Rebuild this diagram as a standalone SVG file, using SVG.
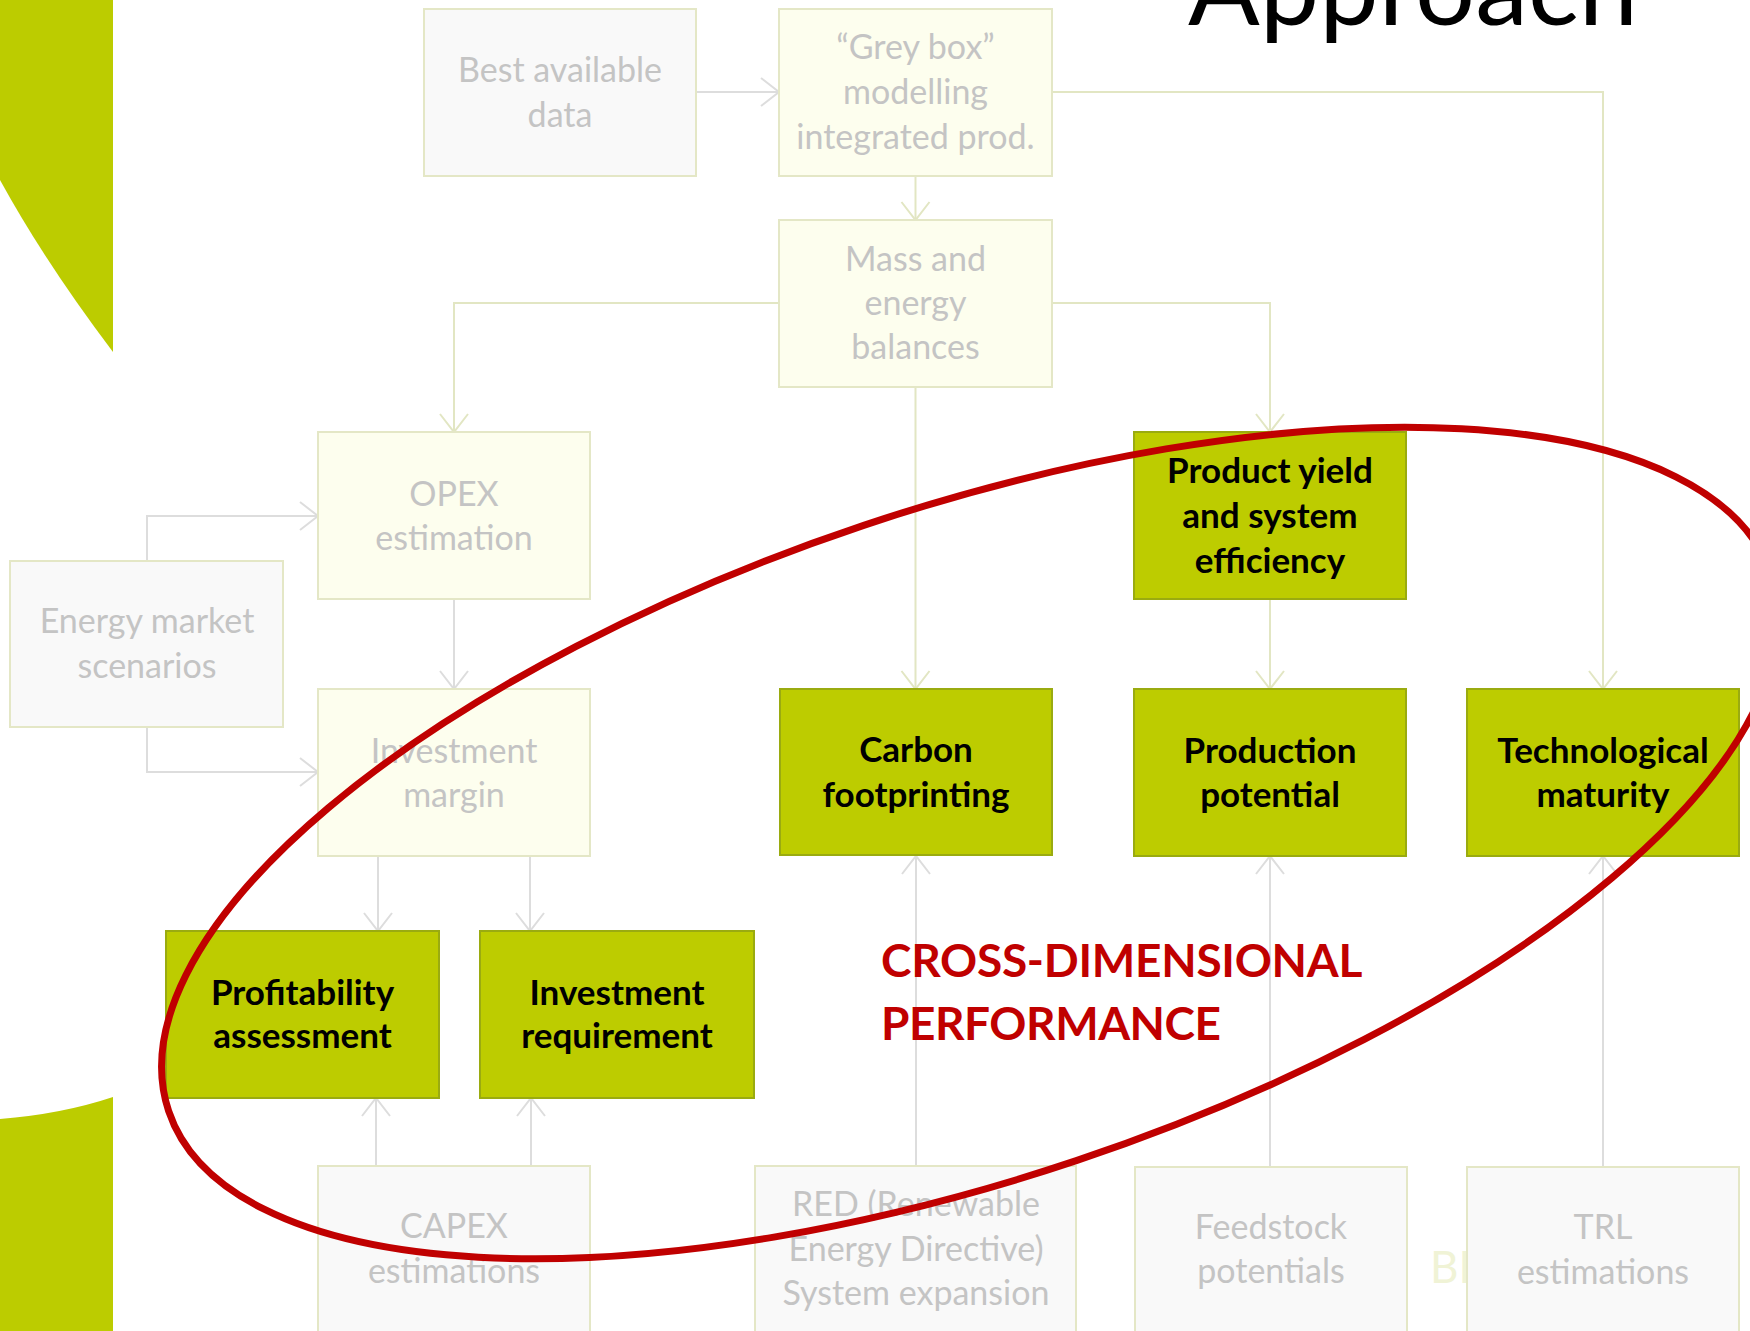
<svg xmlns="http://www.w3.org/2000/svg" width="1750" height="1331" viewBox="0 0 1750 1331">
  <style>
    .faded rect { fill: #fdfeee; stroke: #e4e7c6; stroke-width: 2; }
    .pale rect { fill: #f9f9f9; stroke: #e4e7c6; stroke-width: 2; }
    .faded text, .pale text { font-family: Lato, "Liberation Sans", sans-serif; font-size: 34px; fill: #c4c4c4; text-anchor: middle; }
    .key rect { fill: #bdcc00; stroke: #9aab10; stroke-width: 2; }
    .key text { font-family: Lato, "Liberation Sans", sans-serif; font-weight: bold; font-size: 35px; fill: #000; text-anchor: middle; }
    .olive { fill: none; stroke: #e2e6c3; stroke-width: 2; }
    .grey { fill: none; stroke: #dddddd; stroke-width: 2; }
  </style>
  <defs>
    <marker id="arrOlive" viewBox="-20 -16 22 32" markerWidth="22" markerHeight="32" refX="0" refY="0" orient="auto" markerUnits="userSpaceOnUse">
      <path d="M -18 -14 L 0 0 L -18 14" fill="none" stroke="#e2e6c3" stroke-width="2"/>
    </marker>
    <marker id="arrGrey" viewBox="-20 -16 22 32" markerWidth="22" markerHeight="32" refX="0" refY="0" orient="auto" markerUnits="userSpaceOnUse">
      <path d="M -18 -14 L 0 0 L -18 14" fill="none" stroke="#dddddd" stroke-width="2"/>
    </marker>
  </defs>

  <rect width="1750" height="1331" fill="#ffffff"/>

  <!-- slide decoration -->
  <g id="decor">
    <path d="M 0 0 H 113 V 352 Q 45 262 0 180 Z" fill="#bccc00"/>
    <path d="M 0 1119 Q 62 1114 113 1097 V 1331 H 0 Z" fill="#bccc00"/>
    <text x="1430" y="1283" font-family="Lato, 'Liberation Sans', sans-serif" font-size="44" fill="#f0f3d6">BI</text>
    <text x="1188" y="25" font-family="Lato, 'Liberation Sans', sans-serif" font-size="104" fill="#000" textLength="450" lengthAdjust="spacingAndGlyphs">Approach</text>
  </g>

  <!-- connectors -->
  <g id="connectors">
    <path class="olive" d="M 915.5 176 V 220" marker-end="url(#arrOlive)"/>
    <path class="olive" d="M 779 303 H 454 V 432" marker-end="url(#arrOlive)"/>
    <path class="olive" d="M 1052 303 H 1270 V 432" marker-end="url(#arrOlive)"/>
    <path class="olive" d="M 1052 92 H 1603 V 689" marker-end="url(#arrOlive)"/>
    <path class="olive" d="M 915.5 387 V 689" marker-end="url(#arrOlive)"/>
    <path class="olive" d="M 1270 599 V 689" marker-end="url(#arrOlive)"/>

    <path class="grey" d="M 696 92 H 779" marker-end="url(#arrGrey)"/>
    <path class="grey" d="M 147 561 V 516 H 318" marker-end="url(#arrGrey)"/>
    <path class="grey" d="M 147 727 V 772 H 318" marker-end="url(#arrGrey)"/>
    <path class="grey" d="M 454 599 V 689" marker-end="url(#arrGrey)"/>
    <path class="grey" d="M 378 856 V 931" marker-end="url(#arrGrey)"/>
    <path class="grey" d="M 530 856 V 931" marker-end="url(#arrGrey)"/>
    <path class="grey" d="M 376 1166 V 1098" marker-end="url(#arrGrey)"/>
    <path class="grey" d="M 531 1166 V 1098" marker-end="url(#arrGrey)"/>
    <path class="grey" d="M 916 1166 V 856" marker-end="url(#arrGrey)"/>
    <path class="grey" d="M 1270 1167 V 856" marker-end="url(#arrGrey)"/>
    <path class="grey" d="M 1603 1167 V 856" marker-end="url(#arrGrey)"/>
  </g>

  <!-- input / intermediate nodes -->
  <g id="best-data" class="pale">
    <rect x="424" y="9" width="272" height="167"/>
    <text x="560" y="82">Best available</text>
    <text x="560" y="127">data</text>
  </g>
  <g id="grey-box" class="faded">
    <rect x="779" y="9" width="273" height="167"/>
    <text x="915.5" y="59">“Grey box”</text>
    <text x="915.5" y="104">modelling</text>
    <text x="915.5" y="149">integrated prod.</text>
  </g>
  <g id="mass-energy" class="faded">
    <rect x="779" y="220" width="273" height="167"/>
    <text x="915.5" y="271">Mass and</text>
    <text x="915.5" y="315">energy</text>
    <text x="915.5" y="359">balances</text>
  </g>
  <g id="opex" class="faded">
    <rect x="318" y="432" width="272" height="167"/>
    <text x="454" y="506">OPEX</text>
    <text x="454" y="550">estimation</text>
  </g>
  <g id="energy-market" class="pale">
    <rect x="10" y="561" width="273" height="166"/>
    <text x="147" y="633">Energy market</text>
    <text x="147" y="678">scenarios</text>
  </g>
  <g id="investment-margin" class="faded">
    <rect x="318" y="689" width="272" height="167"/>
    <text x="454" y="763">Investment</text>
    <text x="454" y="807">margin</text>
  </g>
  <g id="capex" class="pale">
    <rect x="318" y="1166" width="272" height="180"/>
    <text x="454" y="1238">CAPEX</text>
    <text x="454" y="1283">estimations</text>
  </g>
  <g id="red-directive" class="pale">
    <rect x="755" y="1166" width="321" height="180"/>
    <text x="916" y="1216">RED (Renewable</text>
    <text x="916" y="1261">Energy Directive)</text>
    <text x="916" y="1305">System expansion</text>
  </g>
  <g id="feedstock" class="pale">
    <rect x="1135" y="1167" width="272" height="180"/>
    <text x="1271" y="1239">Feedstock</text>
    <text x="1271" y="1283">potentials</text>
  </g>
  <g id="trl" class="pale">
    <rect x="1467" y="1167" width="272" height="180"/>
    <text x="1603" y="1239">TRL</text>
    <text x="1603" y="1284">estimations</text>
  </g>

  <!-- performance dimensions -->
  <g id="product-yield" class="key">
    <rect x="1134" y="432" width="272" height="167"/>
    <text x="1270" y="483">Product yield</text>
    <text x="1270" y="528">and system</text>
    <text x="1270" y="573">efficiency</text>
  </g>
  <g id="carbon" class="key">
    <rect x="780" y="689" width="272" height="166"/>
    <text x="916" y="762">Carbon</text>
    <text x="916" y="807">footprinting</text>
  </g>
  <g id="production" class="key">
    <rect x="1134" y="689" width="272" height="167"/>
    <text x="1270" y="763">Production</text>
    <text x="1270" y="807">potential</text>
  </g>
  <g id="maturity" class="key">
    <rect x="1467" y="689" width="272" height="167"/>
    <text x="1603" y="763">Technological</text>
    <text x="1603" y="807">maturity</text>
  </g>
  <g id="profitability" class="key">
    <rect x="166" y="931" width="273" height="167"/>
    <text x="302.5" y="1005">Profitability</text>
    <text x="302.5" y="1048">assessment</text>
  </g>
  <g id="investment-req" class="key">
    <rect x="480" y="931" width="274" height="167"/>
    <text x="617" y="1005">Investment</text>
    <text x="617" y="1048">requirement</text>
  </g>

  <!-- highlight -->
  <g id="highlight">
    <ellipse cx="970" cy="843" rx="845" ry="335" transform="rotate(-18.5 970 843)" fill="none" stroke="#c00000" stroke-width="7"/>
    <text font-family="Lato, 'Liberation Sans', sans-serif" font-weight="bold" font-size="46" fill="#c00000" lengthAdjust="spacingAndGlyphs">
      <tspan x="881" y="977" textLength="480">CROSS-DIMENSIONAL</tspan>
      <tspan x="881" y="1040" textLength="340">PERFORMANCE</tspan>
    </text>
  </g>
</svg>
